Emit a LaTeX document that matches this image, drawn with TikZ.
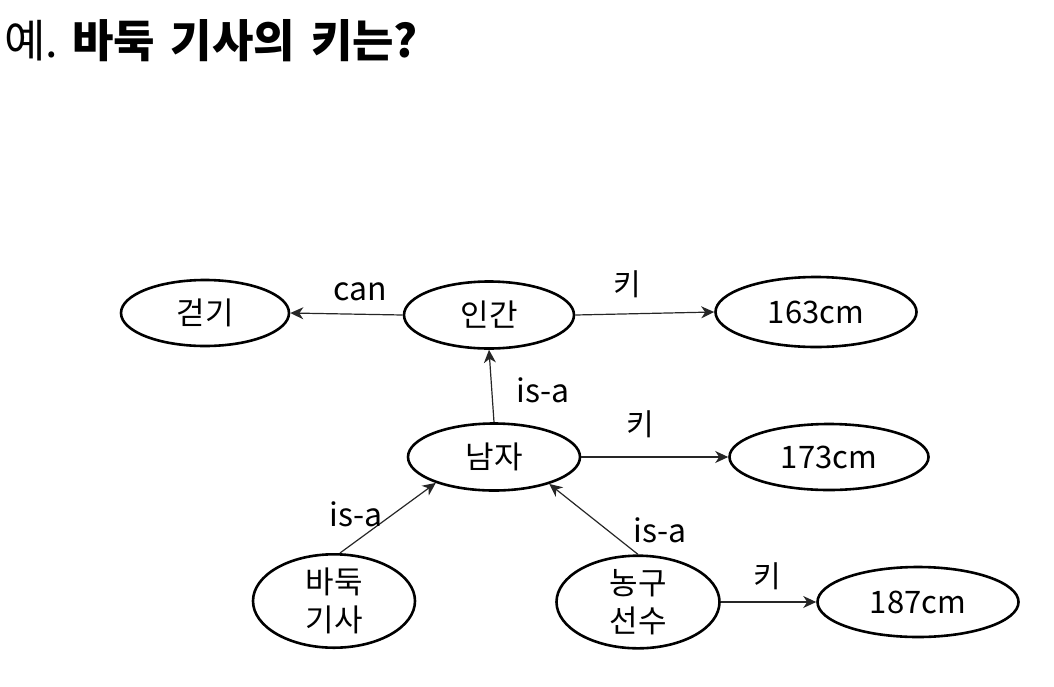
\documentclass[tikz,border=0pt]{standalone}
\usepackage{fontspec}
\setmainfont{Noto Sans CJK KR}
\usetikzlibrary{shapes.geometric,arrows.meta}
\tikzset{
  ell/.style={ellipse, draw=black, line width=2.6pt, inner sep=0pt, font=\fontsize{31}{38}\selectfont, align=center, text=black},
  arr/.style={line width=1.2pt, draw=black!85, -{Stealth[length=13pt,width=12pt,inset=4pt]}},
  lbl/.style={font=\fontsize{32}{36}\selectfont, inner sep=0pt},
  klbl/.style={font=\fontsize{30}{36}\selectfont, inner sep=0pt},
}
\begin{document}
\begin{tikzpicture}[x=1pt,y=-1pt]
\useasboundingbox (0,0) rectangle (1054,686);
\node[anchor=base west, inner sep=0pt, font=\fontsize{45}{50}\selectfont] (title) at (4,57) {예.\hspace{14pt}\textbf{바둑\hspace{16pt}기사의\hspace{16pt}키는?}};

\node[ell, minimum width=168pt, minimum height=66pt] (gg) at (205,313) {걷기};
\node[ell, minimum width=170pt, minimum height=67pt] (ig) at (489,315) {인간};
\node[ell, minimum width=201pt, minimum height=70pt] (c163) at (816,312) {163cm};
\node[ell, minimum width=172pt, minimum height=67pt] (nz) at (494,457) {남자};
\node[ell, minimum width=199pt, minimum height=66pt] (c173) at (829,457) {173cm};
\node[ell, minimum width=162pt, minimum height=83pt] (bd) at (334,601) {바둑\\기사};
\node[ell, minimum width=163pt, minimum height=76pt] (ns) at (638,602) {농구\\선수};
\node[ell, minimum width=201pt, minimum height=70pt] (c187) at (918,602) {187cm};

\draw[arr] (ig.west) -- (gg.east);
\draw[arr] (ig.east) -- (c163.west);
\draw[arr] (nz.north) -- (ig.south);
\draw[arr] (nz.east) -- (c173.west);
\draw[arr] ([xshift=6pt]bd.north) -- (nz.204);
\draw[arr] (ns.north) -- (nz.-26);
\draw[arr] (ns.east) -- (c187.west);

\node[lbl] (lcan) at (360,292) {can};
\node[klbl] (lk1) at (627,284) {키};
\node[lbl] (lisa1) at (543,390) {is-a};
\node[klbl] (lk2) at (640,424) {키};
\node[lbl] (lisa2) at (356,514) {is-a};
\node[lbl] (lisa3) at (660,530) {is-a};
\node[klbl] (lk3) at (767,576) {키};
\end{tikzpicture}
\end{document}
